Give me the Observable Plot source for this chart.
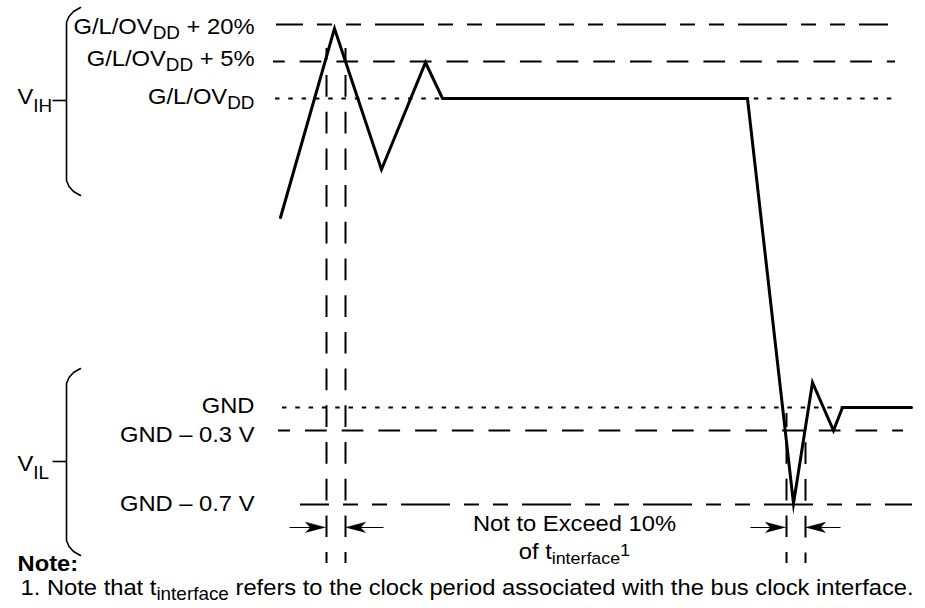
<!DOCTYPE html>
<html><head><meta charset="utf-8">
<script src="https://cdn.jsdelivr.net/npm/d3@7"></script>
<script src="https://cdn.jsdelivr.net/npm/@observablehq/plot@0.6"></script>
<style>
html,body{margin:0;padding:0;background:#fff;}
#chart{width:925px;height:608px;overflow:hidden;}
</style></head><body><div id="chart"></div>
<script>
// ---- waveform (time units, level units) ----
const waveT = [280, 334, 381, 425, 442, 747, 793, 812, 833, 842, 911];
const waveV = [217, 28, 169, 62, 98, 98, 503, 382, 430, 407, 407];

// ---- reference levels ----
const levelNames = ["G/L/OV_{DD} + 20%", "G/L/OV_{DD} + 5%", "G/L/OV_{DD}", "GND", "GND – 0.3 V", "GND – 0.7 V"];
const levelV = [24, 61, 98, 407, 430, 504];
const levelLabelV = [33, 65, 103, 412, 441, 510];
const levelStart = [276, 273, 275, 282, 278, 300];
const levelEnd = [888, 895, 895, 843, 903, 912];
const levelKind = ["longshort", "dash", "dot", "dot", "dash", "longshort"];

// ---- timing window markers ----
const markerT = [326, 345, 786, 805];
const markerFrom = [48, 48, 413, 430];
const markerTo = [563, 563, 563, 563];

// ---- dimension arrows ----
const arrowFrom = [289, 383, 750, 840];
const arrowTo = [325, 345, 785, 805];
const arrowV = [527, 527, 527, 527];

// ---- range brackets ----
const bracketNames = ["V_{IH}", "V_{IL}"];
const bracketTop = [7, 368];
const bracketMid = [100, 461];
const bracketBottom = [195, 555];

// ---- other texts ----
const windowText = ["Not to Exceed 10%", "of t_{interface}^{1}"];
const noteTitle = "Note:";
const noteText = "1. Note that t_{interface} refers to the clock period associated with the bus clock interface.";

// ---- styles (not data) ----
const dashStyle = {
  longshort: {array: "49,14,15,14,15,14"},
  dash: {array: "21.7,15"},
  dot: {array: "4.5,8.8"}
};
const levelPhase = [22, 10, 0, 0, 9.7, 20];
const markerPhase = [9.7, 9.7, 7.7, 24.4];
const font = "'Liberation Sans', Arial, Helvetica, sans-serif";

const idx = n => d3.range(n);

// derived geometry
const bracketPts = [];
bracketTop.forEach((top, g) => {
  const b = bracketBottom[g];
  [[80, top], [73, top + 4], [68.5, top + 9], [66, top + 15], [66, b - 15], [68.5, b - 9], [73, b - 4], [80, b]]
    .forEach(([x, y]) => bracketPts.push({g, x, y}));
});
const headPts = [];
arrowTo.forEach((tip, i) => {
  const dir = Math.sign(tip - arrowFrom[i]);
  const y = arrowV[i];
  [[tip, y], [tip - dir * 20, y - 5.3], [tip - dir * 15, y], [tip - dir * 20, y + 5.3]]
    .forEach(([x, yy]) => headPts.push({g: i, x, y: yy}));
});

const marks = [];
levelV.forEach((v, i) => {
  marks.push(Plot.ruleY([i], {
    y: j => levelV[j], x1: j => levelStart[j], x2: j => levelEnd[j],
    stroke: "black", strokeWidth: 2,
    strokeDasharray: dashStyle[levelKind[i]].array, strokeDashoffset: levelPhase[i]
  }));
});
markerT.forEach((t, i) => {
  marks.push(Plot.ruleX([i], {
    x: j => markerT[j], y1: j => markerFrom[j], y2: j => markerTo[j],
    stroke: "black", strokeWidth: 2,
    strokeDasharray: dashStyle.dash.array, strokeDashoffset: markerPhase[i]
  }));
});
marks.push(
  Plot.line(idx(waveT.length), {x: i => waveT[i], y: i => waveV[i], stroke: "black", strokeWidth: 3, strokeLinejoin: "miter", strokeMiterlimit: 10}),
  Plot.line(bracketPts, {x: "x", y: "y", z: "g", stroke: "black", strokeWidth: 1.6}),
  Plot.link(idx(bracketMid.length), {x1: 52, x2: 66, y1: i => bracketMid[i], y2: i => bracketMid[i], stroke: "black", strokeWidth: 1.6}),
  Plot.link(idx(arrowFrom.length), {x1: i => arrowFrom[i], x2: i => arrowTo[i] - Math.sign(arrowTo[i] - arrowFrom[i]) * 12, y1: i => arrowV[i], y2: i => arrowV[i], stroke: "black", strokeWidth: 1}),
  Plot.line(headPts, {x: "x", y: "y", z: "g", fill: "black", stroke: "black", strokeWidth: 0.5}),
  Plot.text(idx(levelNames.length), {x: 254, y: i => levelLabelV[i], text: i => levelNames[i], textAnchor: "end", fontSize: 22, fontFamily: font, fill: "black"}),
  Plot.text(idx(bracketNames.length), {x: 17, y: i => bracketMid[i] + 3 + (i ? 6 : 0), text: i => bracketNames[i], textAnchor: "start", fontSize: 22, fontFamily: font, fill: "black"}),
  Plot.text(idx(windowText.length), {x: 574, y: i => [530, 558][i], text: i => windowText[i], textAnchor: "middle", fontSize: 22, fontFamily: font, fill: "black"}),
  Plot.text([noteTitle], {x: 17, y: 570, text: d => d, textAnchor: "start", fontSize: 22, fontWeight: "bold", fontFamily: font, fill: "black"}),
  Plot.text([noteText], {x: 20, y: 594, text: d => d, textAnchor: "start", fontSize: 22, fontFamily: font, fill: "black"})
);

const svg = Plot.plot({
  width: 925, height: 608,
  marginTop: 0, marginRight: 0, marginBottom: 0, marginLeft: 0,
  x: {type: "linear", domain: [0, 925], range: [0, 925], axis: null},
  y: {type: "linear", domain: [0, 608], range: [0, 608], axis: null},
  style: {background: "white", overflow: "visible"},
  marks
});

// rich text: subscripts / superscripts, baseline at anchor, slight horizontal widening
const SX = 1.08;
svg.querySelectorAll("text").forEach(t => {
  const s = t.textContent;
  t.setAttribute("y", "0");
  t.removeAttribute("dy");
  const tr = t.getAttribute("transform");
  if (tr) t.setAttribute("transform", tr + ` scale(${SX},1)`);
  else {
    const x = +t.getAttribute("x") || 0, y = +t.getAttribute("y") || 0;
    t.setAttribute("x", 0);
    t.setAttribute("transform", `translate(${x},${y}) scale(${SX},1)`);
  }
  if (!/[_^]\{/.test(s)) return;
  const subShift = s.startsWith("V_") ? 8 : 5;
  const subSize = s.startsWith("of") ? 16.5 : 17.5;
  const parts = s.split(/(_\{[^}]*\}|\^\{[^}]*\})/).filter(p => p.length);
  while (t.firstChild) t.removeChild(t.firstChild);
  let cur = 0;
  parts.forEach(p => {
    const ts = document.createElementNS("http://www.w3.org/2000/svg", "tspan");
    let target = 0;
    if (p.startsWith("_{")) { target = subShift; ts.setAttribute("font-size", subSize); p = p.slice(2, -1); }
    else if (p.startsWith("^{")) { target = -3; ts.setAttribute("font-size", 17); p = p.slice(2, -1); }
    if (target !== cur) ts.setAttribute("dy", target - cur);
    cur = target;
    ts.textContent = p;
    t.appendChild(ts);
  });
});

document.getElementById("chart").appendChild(svg);
</script>
</body></html>
